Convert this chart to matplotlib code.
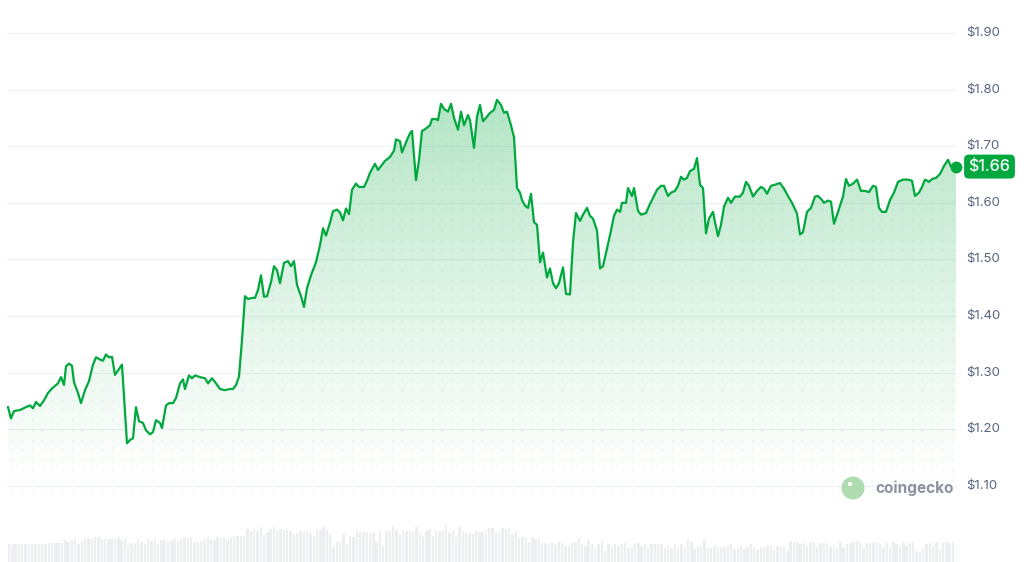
import matplotlib
matplotlib.use("Agg")
import matplotlib.pyplot as plt
import numpy as np
from matplotlib.patches import PathPatch, Circle

plt.rcParams['font.family'] = ['Inter', 'DejaVu Sans']

# ------------- DATA -------------
# time position (arbitrary units along the 7d window) and price in USD
t = [8, 11, 14, 20, 26, 30, 33, 36, 40, 44, 48, 52, 56, 58, 61, 64, 66, 69, 72, 74,
     78, 81, 85, 89, 93, 96, 100, 103, 106, 109, 112, 115, 120, 122, 127, 130, 133, 136, 139, 143,
     146, 150, 153, 156, 160, 162, 166, 169, 173, 176, 180, 183, 185, 189, 192, 195, 200, 205, 208, 212,
     216, 220, 225, 230, 233, 236, 239, 242, 245, 248, 252, 255, 258, 261, 264, 267, 271, 274, 277, 280,
     284, 288, 291, 294, 297, 301, 304, 307, 311, 316, 320, 323, 326, 330, 333, 337, 340, 343, 346, 349,
     352, 356, 359, 364, 367, 370, 375, 378, 382, 385, 390, 394, 396, 400, 402, 407, 410, 412, 416, 419,
     422, 425, 430, 432, 436, 438, 441, 444, 448, 451, 454, 458, 461, 464, 468, 470, 474, 477, 480, 483,
     485, 490, 494, 497, 501, 504, 507, 511, 514, 517, 520, 522, 525, 528, 531, 534, 537, 540, 543, 547,
     550, 553, 556, 559, 563, 566, 570, 573, 576, 580, 583, 587, 590, 593, 597, 600, 603, 607, 611, 614,
     617, 620, 622, 626, 628, 632, 634, 638, 641, 646, 650, 654, 657, 661, 664, 668, 671, 675, 678, 681,
     684, 687, 690, 694, 697, 700, 703, 706, 709, 713, 715, 718, 721, 724, 728, 731, 735, 740, 743, 746,
     749, 753, 757, 761, 764, 767, 771, 775, 780, 784, 788, 792, 797, 800, 803, 807, 811, 815, 818, 821,
     824, 828, 831, 834, 838, 843, 846, 849, 853, 857, 861, 865, 869, 873, 876, 879, 882, 886, 890, 894,
     898, 903, 908, 912, 915, 919, 922, 925, 929, 932, 936, 940, 944, 948, 951, 956]

price = [1.239, 1.219, 1.232, 1.234, 1.239, 1.242, 1.237, 1.248, 1.241, 1.251, 1.264, 1.272, 1.278, 1.281, 1.292, 1.278, 1.311, 1.316, 1.312, 1.283,
         1.264, 1.246, 1.269, 1.285, 1.314, 1.327, 1.323, 1.321, 1.332, 1.327, 1.328, 1.296, 1.309, 1.314, 1.175, 1.181, 1.184, 1.239, 1.214, 1.211,
         1.198, 1.191, 1.195, 1.216, 1.211, 1.202, 1.242, 1.246, 1.246, 1.255, 1.281, 1.288, 1.271, 1.295, 1.290, 1.295, 1.292, 1.290, 1.281, 1.290,
         1.281, 1.271, 1.269, 1.271, 1.271, 1.278, 1.293, 1.358, 1.435, 1.430, 1.432, 1.432, 1.446, 1.472, 1.434, 1.435, 1.460, 1.488, 1.481, 1.458,
         1.494, 1.497, 1.488, 1.497, 1.455, 1.435, 1.416, 1.449, 1.472, 1.495, 1.525, 1.555, 1.542, 1.565, 1.585, 1.588, 1.583, 1.569, 1.590, 1.580,
         1.623, 1.634, 1.628, 1.628, 1.639, 1.653, 1.669, 1.658, 1.667, 1.674, 1.681, 1.692, 1.712, 1.709, 1.689, 1.711, 1.723, 1.727, 1.640, 1.675,
         1.727, 1.730, 1.737, 1.748, 1.748, 1.746, 1.775, 1.766, 1.761, 1.775, 1.750, 1.729, 1.761, 1.737, 1.755, 1.746, 1.697, 1.752, 1.773, 1.744,
         1.748, 1.759, 1.764, 1.782, 1.773, 1.759, 1.761, 1.737, 1.716, 1.626, 1.618, 1.605, 1.595, 1.591, 1.616, 1.566, 1.561, 1.495, 1.512, 1.468,
         1.484, 1.458, 1.449, 1.458, 1.486, 1.439, 1.438, 1.530, 1.582, 1.568, 1.579, 1.591, 1.577, 1.572, 1.551, 1.484, 1.488, 1.519, 1.551, 1.577,
         1.588, 1.584, 1.600, 1.600, 1.626, 1.612, 1.626, 1.586, 1.579, 1.582, 1.598, 1.612, 1.623, 1.630, 1.630, 1.612, 1.618, 1.621, 1.630, 1.646,
         1.641, 1.644, 1.656, 1.660, 1.679, 1.632, 1.626, 1.546, 1.572, 1.584, 1.566, 1.541, 1.561, 1.593, 1.609, 1.600, 1.611, 1.611, 1.618, 1.637,
         1.630, 1.611, 1.621, 1.628, 1.625, 1.616, 1.630, 1.632, 1.635, 1.625, 1.612, 1.600, 1.581, 1.544, 1.548, 1.584, 1.591, 1.611, 1.612, 1.607,
         1.600, 1.604, 1.602, 1.563, 1.584, 1.611, 1.642, 1.630, 1.634, 1.641, 1.621, 1.621, 1.619, 1.630, 1.628, 1.591, 1.584, 1.584, 1.605, 1.618,
         1.637, 1.641, 1.641, 1.639, 1.612, 1.618, 1.628, 1.641, 1.637, 1.642, 1.644, 1.651, 1.665, 1.676, 1.664, 1.664]

# traded volume (relative units), one bar per time bucket
volume = [17.7, 17.0, 17.7, 17.7, 17.7, 17.7, 17.7, 17.7, 17.7, 17.7, 17.7, 17.7,
          19, 19, 19, 19, 19, 22, 20, 22, 23, 17.7, 20, 23, 24.3, 23, 25, 25, 23, 23, 23, 23, 23, 25, 22, 24,
          16.3, 19, 19, 23, 20, 17.7, 22, 21, 22, 17.7, 22, 22, 21, 21, 23, 21, 23, 25, 24.3, 25, 20, 20, 21, 23,
          25, 23, 22, 25, 24, 24, 22, 24, 25, 26, 26, 26, 33, 31, 33, 31, 35.3, 27.3, 30.3, 33, 35.3, 32.3, 33,
          32.3, 32.3, 31, 27.3, 28.7,
          31, 30.3, 31, 28.7, 26.3, 33, 32, 35, 33, 27.7, 15.3, 19.7, 19.7, 27.7, 17.7, 26.3, 25.3, 31, 29.7, 29.7,
          29.7, 27.7, 28.7, 20.3, 31, 16.3, 31, 31, 36, 32, 27.7, 31, 31, 31, 31, 35, 27.7, 25.3, 31, 33,
          26.3, 31, 31, 32, 37, 28.7, 31, 25.3, 35, 31, 28.7, 27.7, 27.7, 31, 29.7, 29.7, 32, 34.3, 34.3, 28.7,
          28.7, 34.3, 33, 33, 27.7, 29.7, 24.3, 25.3, 25.3, 20.3, 25.3, 23,
          23, 18.7, 18.7, 17.7, 19.7, 17, 19.7, 18.7, 16.3, 16.3, 18.7, 19.7, 24.3, 17.7, 16.3, 22, 17.7, 13, 17.7, 21,
          11, 17.7, 15.3, 17.7, 16.3, 17.7, 18.7, 14.3, 15.3, 18.7, 18.7, 16.3, 17.7, 14.3, 17.7, 17.7, 17.7, 17.7, 14.3, 16.3,
          14.3, 17.7, 14.3, 17.7, 14.3, 23, 19.7, 13, 16.3, 15.3, 23, 14.3, 14.3, 16.3, 14.3, 14.3, 15.3, 16.3, 17.7, 13,
          14.3, 16.3, 13, 15.3, 17.7, 15.3, 12, 15.3, 15.3, 16.3, 16.3, 12, 16.3,
          16.3, 15.3, 11, 21, 19.7, 19.7, 17.7, 18.7, 16.3, 19.7, 19.7, 15.3, 18.7, 18.7, 18.7, 15.3, 16.3, 14.3, 19.7, 15.3,
          17.7, 18.7, 19.7, 21, 19.7, 14.3, 18.7, 18.7, 18.7, 19.7, 17.7, 15.3, 18.7, 14.3, 19.7, 17.7, 16.3, 19.7, 16.3, 18.7,
          19.7, 11, 10.3, 13, 17.7, 18.7, 16.3, 19.7, 13, 18.7, 19.7, 18.7, 19.7]

grid_levels = [1.10, 1.20, 1.30, 1.40, 1.50, 1.60, 1.70, 1.80, 1.90]
grid_labels = ['$%.2f' % g for g in grid_levels]

green = '#00a83e'
txt_gray = '#58667e'

# ------------- PLOT -------------
W, H = 1024, 562
fig = plt.figure(figsize=(W / 100, H / 100), dpi=100)
fig.patch.set_facecolor('white')

x0, x1 = 7, 957
ymin, ymax = 1.0749, 1.923
ax = fig.add_axes([x0 / W, 62 / H, (x1 - x0) / W, 480 / H])
ax.set_xlim(x0, x1)
ax.set_ylim(ymin, ymax)
ax.axis('off')

for g in grid_levels:
    ax.plot([x0, 955], [g, g], color='#eff1f4', lw=0.9, zorder=1)

# gradient fill under the line
fill = ax.fill_between(t, price, ymin, color='none', lw=0)
clip = PathPatch(fill.get_paths()[0], transform=ax.transData, fc='none', ec='none')
ax.add_patch(clip)
top = max(price)
grad = np.zeros((256, 2, 4))
rgb = matplotlib.colors.to_rgb(green)
grad[..., 0], grad[..., 1], grad[..., 2] = rgb
alpha = 0.3 * np.linspace(1, 0, 256) ** 1.2
grad[..., 3] = alpha[:, None]
im = ax.imshow(grad, extent=[x0, x1, ymin + 0.01, top], aspect='auto', origin='upper', zorder=2)
im.set_clip_path(clip)

# dotted texture inside the filled area
step_y = 10 / 566
gx, gy = np.meshgrid(np.arange(12, 956, 10), np.arange(1.092, top, step_y))
gx, gy = gx.ravel(), gy.ravel()
keep = gy < np.interp(gx, t, price) - 0.004
ax.scatter(gx[keep], gy[keep], s=2.2, color=green, alpha=0.07, lw=0, zorder=3)

ax.plot(t, price, color=green, lw=1.6, zorder=5, solid_joinstyle='round')
ax.plot(t[-1], price[-1], 'o', ms=7.5, color=green, zorder=6, clip_on=False)

# right side labels
for g, lbl in zip(grid_levels, grid_labels):
    y = (g - ymin) / (ymax - ymin) * 480 + 62
    fig.text(966 / W, y / H, lbl, ha='left', va='center', fontsize=9.5, color=txt_gray)

# current price tag
y_last = ((price[-1] - ymin) / (ymax - ymin) * 480 + 62) / H
fig.text(989.5 / W, y_last, '$%.2f' % price[-1], ha='center', va='center', fontsize=11.5,
         color='white', fontweight='medium',
         bbox=dict(boxstyle='round,pad=0.28,rounding_size=0.3', fc=green, ec='none'))

# volume bars
axv = fig.add_axes([x0 / W, 0, (x1 - x0) / W, 60 / H])
axv.set_xlim(x0, x1)
axv.set_ylim(0, 60)
axv.axis('off')
vx = np.linspace(9, 953, len(volume))
axv.bar(vx, volume, width=2.4, color='#eceef2', lw=0)

# watermark
wm = fig.add_axes([0, 0, 1, 1], facecolor='none')
wm.set_xlim(0, W)
wm.set_ylim(H, 0)
wm.axis('off')
wm.add_patch(Circle((853, 488), 11.5, color='#a6d9a8', alpha=0.9, lw=0))
wm.add_patch(Circle((850, 484), 2.2, color='white', lw=0))
wm.text(875, 488, 'coingecko', ha='left', va='center', fontsize=11, fontweight='bold', color='#8b93a1')

fig.savefig('out.png', dpi=100)
